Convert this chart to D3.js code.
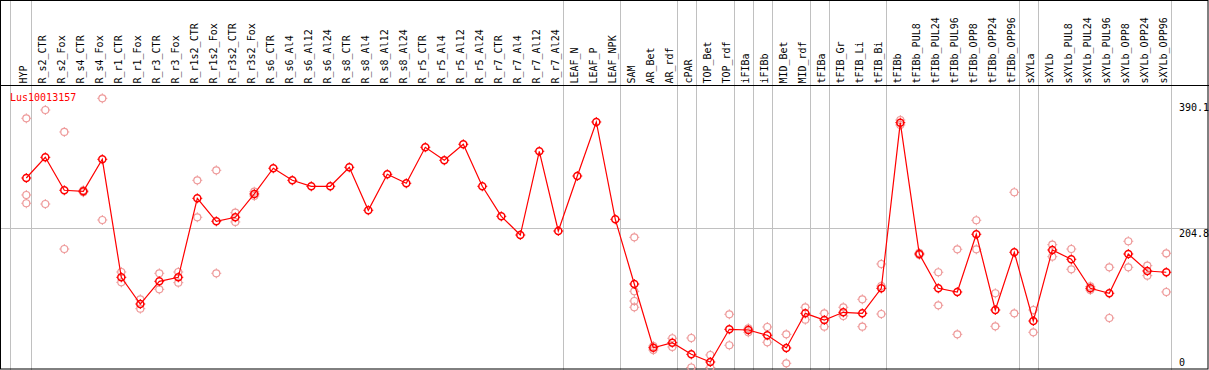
<!DOCTYPE html>
<html><head><meta charset="utf-8">
<script src="https://cdn.jsdelivr.net/npm/d3@7"></script>
<style>
html,body{margin:0;padding:0;background:#fff;}
svg{display:block;}
text{font-family:"DejaVu Sans Mono","Liberation Mono",monospace;font-size:10px;}
</style></head>
<body>
<svg id="chart" width="1209" height="370"></svg>
<script>
const categories = ["HYP","R_s2_CTR","R_s2_Fox","R_s4_CTR","R_s4_Fox","R_r1_CTR","R_r1_Fox","R_r3_CTR","R_r3_Fox","R_r1s2_CTR","R_r1s2_Fox","R_r3s2_CTR","R_r3s2_Fox","R_s6_CTR","R_s6_Al4","R_s6_Al12","R_s6_Al24","R_s8_CTR","R_s8_Al4","R_s8_Al12","R_s8_Al24","R_r5_CTR","R_r5_Al4","R_r5_Al12","R_r5_Al24","R_r7_CTR","R_r7_Al4","R_r7_Al12","R_r7_Al24","LEAF_N","LEAF_P","LEAF_NPK","SAM","AR_Bet","AR_rdf","cPAR","TOP_Bet","TOP_rdf","iFIBa","iFIBb","MID_Bet","MID_rdf","tFIBa","tFIB_Gr","tFIB_Li","tFIB_Bi","tFIBb","tFIBb_PUL8","tFIBb_PUL24","tFIBb_PUL96","tFIBb_OPP8","tFIBb_OPP24","tFIBb_OPP96","sXYLa","sXYLb","sXYLb_PUL8","sXYLb_PUL24","sXYLb_PUL96","sXYLb_OPP8","sXYLb_OPP24","sXYLb_OPP96"];

const meanValues = [278.8,309.2,260.7,259.2,306.3,132.7,93.4,126.8,132.7,248.9,215.1,221.0,255.3,293.1,275.4,266.6,266.6,294.5,231.3,284.2,271.0,324.0,304.8,328.4,266.6,222.4,194.9,318.1,200.8,281.7,361.2,218.0,122.8,29.1,36.5,19.4,8.1,56.2,55.2,47.4,28.7,79.7,69.9,81.2,79.7,116.5,360.2,167.0,116.5,111.1,196.0,84.6,169.5,68.4,172.9,159.2,116.5,109.2,167.0,142.0,140.1];

const rep1 = [366.6,378.8,346.5,260.7,396.0,140.5,100.3,138.6,140.5,275.4,290.1,227.7,258.6,null,null,null,null,null,null,null,null,null,null,null,null,null,null,null,null,null,null,null,191.5,31.6,43.0,43.4,18.4,78.3,57.7,59.6,48.8,88.6,79.7,88.6,100.3,152.3,364.1,168.5,140.1,173.9,216.6,109.2,257.8,84.6,180.7,174.3,119.2,147.4,185.7,149.8,168.0];
const rep2 = [253.8,240.5,174.3,257.8,217.0,125.3,86.5,115.0,124.8,221.0,138.6,214.1,252.3,null,null,null,null,null,null,null,null,null,null,null,null,null,null,null,null,null,null,null,112.1,25.7,30.2,0,0,32.7,51.8,37.1,6.2,70.3,60.0,75.8,60.0,119.9,356.8,165.5,91.5,48.8,173.9,60.6,79.7,51.8,163.0,144.5,114.0,72.8,147.4,135.1,111.1];
const rep3 = [241.6,null,null,null,null,null,null,null,null,null,null,null,null,null,null,null,null,null,null,null,null,null,null,null,null,null,null,null,null,null,null,null,97.8,null,null,null,null,null,null,null,null,null,null,null,null,78.7,null,null,null,null,null,null,null,null,null,null,null,null,null,null,null];
const rep4 = [null,null,null,null,null,null,null,null,null,null,null,null,null,null,null,null,null,null,null,null,null,null,null,null,null,null,null,null,null,null,null,null,88.6,null,null,null,null,null,null,null,null,null,null,null,null,null,null,null,null,null,null,null,null,null,null,null,null,null,null,null,null];

const tickLabels = ["390.1","204.8","0"];
const tickValues = [390.1,204.8,0];
const gridValues = [204.8];
const groupEnds = ["HYP","R_r7_Al24","LEAF_NPK","AR_rdf","cPAR","TOP_rdf","iFIBa","iFIBb","MID_rdf","tFIBa","tFIB_Bi","tFIBb_OPP96","sXYLa","sXYLb_OPP96"];
const seriesName = "Lus10013157";

const W = 1209, H = 370;
const svg = d3.select("#chart");

const x = d3.scalePoint().domain(categories).range([26.3, 26.3 + 19 * (categories.length - 1)]);
const y = d3.scaleLinear().domain([0, 415.6]).range([367.5, 85]);

// background
svg.append("rect").attr("x",0).attr("y",0).attr("width",W).attr("height",H).attr("fill","#fff");

// vertical group separators (full height)
const sepX = [10.5].concat(groupEnds.map(c => Math.round(x(c) + 4.2) + 0.5));
svg.selectAll("line.sep").data(sepX).enter().append("line")
  .attr("class","sep").attr("x1",d=>d).attr("x2",d=>d).attr("y1",0).attr("y2",H)
  .attr("stroke","#c0c0c0").attr("stroke-width",1);

// horizontal grid
svg.selectAll("line.grid").data(gridValues).enter().append("line")
  .attr("x1",1).attr("x2",W-1).attr("y1",d=>Math.round(y(d))+0.5).attr("y2",d=>Math.round(y(d))+0.5)
  .attr("stroke","#c0c0c0").attr("stroke-width",1);

// frame
svg.append("rect").attr("x",0.5).attr("y",0.5).attr("width",W-1.5).attr("height",H-1.5)
  .attr("fill","none").attr("stroke","#000").attr("stroke-width",1);
svg.append("line").attr("x1",0).attr("x2",W).attr("y1",85.5).attr("y2",85.5).attr("stroke","#000");

// category labels
svg.selectAll("text.cat").data(categories).enter().append("text")
  .attr("class","cat")
  .attr("transform",d=>`translate(${x(d)+0.8},83.5) rotate(-90)`)
  .attr("text-anchor","start").attr("fill","#000").text(d=>d);

// y tick labels
svg.selectAll("text.tick").data(tickValues).enter().append("text")
  .attr("x",1179)
  .attr("y",(d,i)=>Math.min(y(d)+9, 366))
  .attr("fill","#000").text((d,i)=>tickLabels[i]);

// series name
svg.append("text").attr("x",10).attr("y",100.5).attr("fill","#ff0000").text(seriesName);

function marker(g, cx, cy, color, sw){
  const r = 3.5;
  g.append("circle").attr("cx",cx).attr("cy",cy).attr("r",r).attr("fill","none")
    .attr("stroke",color).attr("stroke-width",sw);
  const t = [[0,-1],[0,1],[-1,0],[1,0]];
  t.forEach(([dx,dy])=>{
    g.append("line").attr("x1",cx+dx*r).attr("y1",cy+dy*r).attr("x2",cx+dx*(r+1.5)).attr("y2",cy+dy*(r+1.5))
      .attr("stroke",color).attr("stroke-width",1);
  });
}

// replicates
const repG = svg.append("g");
[rep1,rep2,rep3,rep4].forEach(rep=>{
  rep.forEach((v,i)=>{
    if(v===null) return;
    marker(repG, x(categories[i]), y(v), "#ee9a9a", 1.2);
  });
});

// mean line
const line = d3.line().x((d,i)=>x(categories[i])).y(d=>y(d));
svg.append("path").datum(meanValues).attr("d",line).attr("fill","none")
  .attr("stroke","#ff0000").attr("stroke-width",1.2);

const meanG = svg.append("g");
meanValues.forEach((v,i)=>marker(meanG, x(categories[i]), y(v), "#ff0000", 1.5));
</script>
</body></html>
